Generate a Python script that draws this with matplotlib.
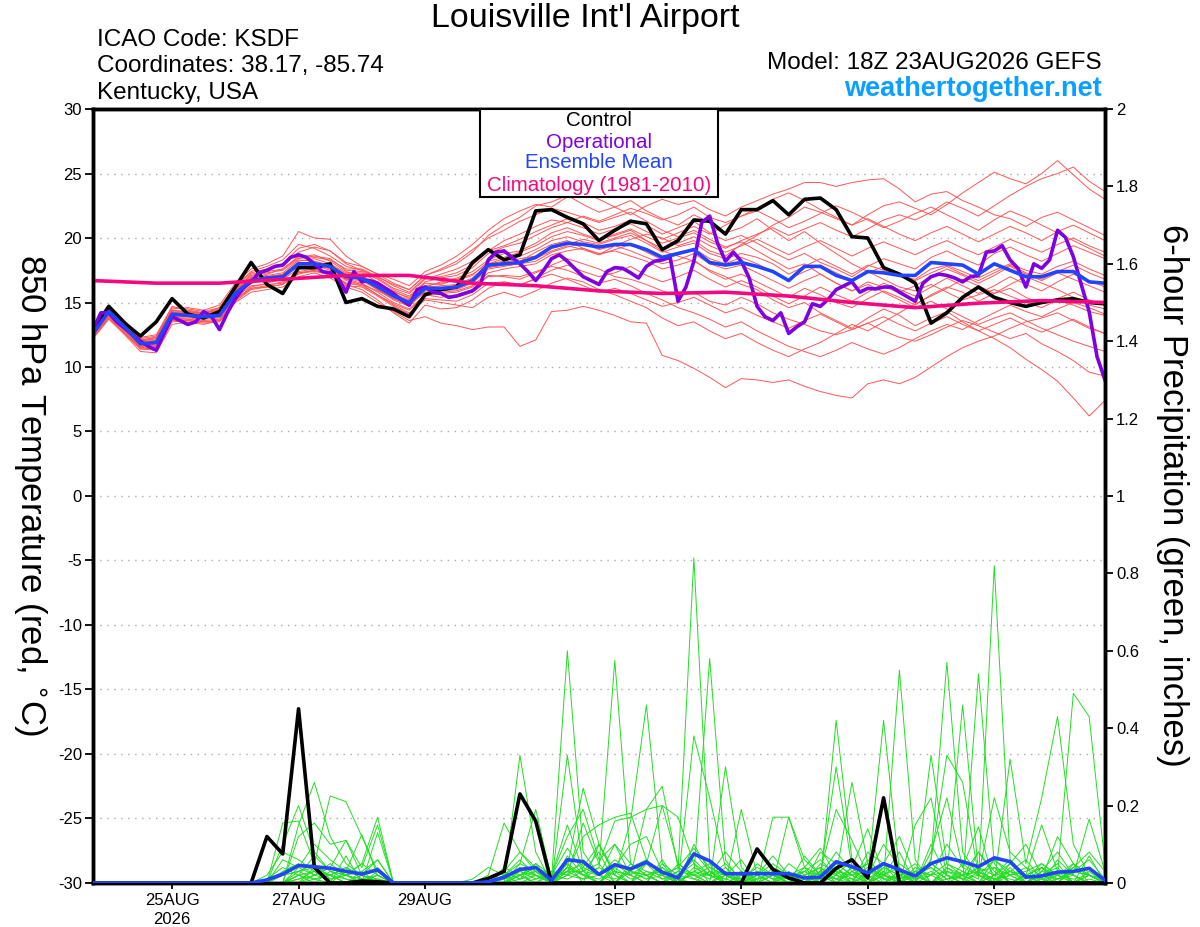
import numpy as np
import pandas as pd
import matplotlib
matplotlib.use("Agg")
import matplotlib.pyplot as plt
from matplotlib.patches import Rectangle

plt.rcParams['font.family'] = ['Liberation Sans', 'DejaVu Sans']
plt.rcParams['axes.unicode_minus'] = False

# 6-hourly times for the ensemble, 3-hourly for the operational run
times = pd.date_range("2026-08-23 18:00", periods=65, freq="6h")
times_op = pd.date_range("2026-08-23 18:00", periods=129, freq="3h")
times_clim = pd.date_range("2026-08-23 18:00", periods=17, freq="24h")

tick_dates = ["2026-08-25", "2026-08-27", "2026-08-29", "2026-09-01",
              "2026-09-03", "2026-09-05", "2026-09-07"]
tick_labels = ["25AUG\n2026", "27AUG", "29AUG", "1SEP", "3SEP", "5SEP", "7SEP"]

# ---- 850 hPa temperature (C) ----
control_t = [12.9, 14.7, 13.4, 12.4, 13.5, 15.3, 14.1, 13.8, 14.3, 16.2, 18.1, 16.4, 15.7,
             17.7, 17.7, 18.0, 15.0, 15.3, 14.7, 14.5, 13.9, 15.6, 16.0, 16.2, 18.1, 19.1,
             18.3, 18.7, 22.1, 22.2, 21.6, 21.1, 19.8, 20.6, 21.3, 21.1, 19.1, 19.8, 21.4,
             21.3, 20.3, 22.2, 22.2, 22.9, 21.8, 23.0, 23.1, 22.2, 20.1, 20.0, 17.7, 17.2,
             16.5, 13.4, 14.2, 15.4, 16.2, 15.4, 15.0, 14.7, 15.0, 15.2, 15.3, 15.0, 14.9]

mean_t = [12.6, 14.3, 13.1, 11.8, 11.9, 14.1, 14.0, 13.9, 14.0, 15.7, 16.7, 16.9, 17.0,
          18.0, 18.0, 17.8, 17.0, 16.9, 16.2, 15.5, 15.0, 16.1, 16.1, 16.2, 16.7, 17.9,
          18.0, 18.1, 18.5, 19.3, 19.6, 19.5, 19.3, 19.5, 19.5, 19.1, 18.5, 18.8, 19.1,
          18.1, 17.9, 18.1, 17.8, 17.4, 16.7, 17.8, 17.8, 17.1, 16.7, 17.4, 17.3, 17.1,
          17.1, 18.1, 18.0, 17.9, 17.2, 18.0, 17.5, 17.0, 17.0, 17.4, 17.4, 16.6, 16.5]

oper_t = [12.9, 14.2, 14.2, 13.5, 13.0, 12.5, 12.0, 11.6, 11.3, 12.6, 13.9, 13.6, 13.3,
          13.5, 14.3, 13.9, 12.9, 14.2, 15.3, 16.1, 16.6, 17.3, 17.5, 17.8, 17.9, 18.5,
          18.7, 18.5, 18.0, 17.4, 17.3, 16.9, 15.8, 17.4, 16.6, 16.7, 16.5, 16.1, 15.7,
          15.2, 14.8, 16.0, 16.2, 15.8, 15.7, 15.4, 15.5, 15.7, 15.9, 16.4, 18.3, 18.9,
          19.0, 18.5, 18.0, 17.4, 16.7, 17.5, 18.4, 18.7, 18.2, 17.6, 17.0, 16.7, 16.4,
          17.4, 17.7, 17.65, 17.3, 16.9, 17.8, 18.2, 18.3, 18.5, 15.1, 16.2, 18.2, 21.2,
          21.7, 19.6, 18.2, 18.9, 18.2, 16.9, 14.7, 13.9, 13.6, 14.2, 12.6, 13.1, 13.5,
          14.9, 14.7, 15.25, 16.0, 16.3, 16.6, 15.8, 16.1, 16.05, 16.2, 16.2, 15.8, 15.45,
          15.1, 16.5, 17.0, 17.2, 17.1, 16.9, 16.6, 17.0, 17.1, 18.9, 19.0, 19.4, 18.3,
          17.65, 16.2, 18.0, 17.65, 18.3, 20.6, 20.05, 18.55, 16.4, 14.3, 10.8, 9.0]

clim_t = [16.7, 16.5, 16.5, 16.8, 17.1, 17.1, 16.5, 16.3, 15.9, 15.7, 15.8, 15.5, 15.0,
          14.6, 14.95, 15.15, 15.0]

t01 = [12.4, 14.0, 12.9, 11.6, 11.8, 13.9, 14.3, 14.1, 14.6, 16.3, 17.4, 17.8, 18.3,
       19.5, 19.2, 18.6, 17.8, 17.5, 17.0, 16.4, 16.0, 17.1, 17.5, 18.0, 18.9, 20.2,
       21.0, 21.6, 22.5, 22.8, 23.3, 22.6, 22.0, 22.4, 22.9, 22.1, 21.5, 21.0, 21.8,
       21.2, 20.4, 20.8, 21.5, 20.6, 19.8, 20.5, 19.6, 18.8, 18.0, 17.4, 16.8, 16.2,
       15.9, 16.4, 15.8, 15.2, 15.6, 16.0, 15.5, 15.0, 14.6, 15.2, 14.8, 14.3, 14.0]
t02 = [12.3, 13.8, 12.6, 11.4, 11.3, 13.5, 13.6, 13.4, 13.5, 15.0, 15.8, 16.0, 16.2,
       17.0, 17.3, 16.9, 16.2, 15.8, 15.0, 14.3, 13.6, 13.9, 13.4, 13.2, 12.9, 13.1,
       13.1, 11.6, 12.1, 14.3, 14.4, 14.7, 14.4, 14.0, 13.5, 13.4, 10.9, 10.5, 9.9,
       9.2, 8.4, 9.1, 9.0, 8.8, 9.0, 8.5, 8.1, 7.8, 7.6, 8.7, 9.0, 8.7,
       9.2, 10.0, 10.8, 11.5, 12.0, 12.4, 13.0, 13.5, 13.8, 14.2, 13.6, 13.0, 12.6]
t03 = [12.8, 14.5, 13.3, 12.0, 12.2, 14.4, 14.2, 14.1, 14.3, 15.9, 16.9, 17.2, 17.6,
       18.5, 18.7, 18.2, 17.4, 17.0, 16.5, 15.9, 15.3, 16.2, 16.6, 16.9, 17.4, 18.3,
       18.8, 19.0, 19.6, 20.4, 20.8, 20.3, 19.9, 20.2, 20.6, 19.8, 19.0, 18.6, 18.2,
       17.5, 17.0, 16.4, 16.0, 15.2, 14.6, 15.0, 14.2, 13.6, 13.0, 13.8, 14.5, 14.0,
       13.2, 13.8, 14.3, 13.5, 12.8, 12.2, 11.5, 10.6, 9.8, 8.9, 7.6, 6.2, 7.4]
t04 = [12.5, 14.4, 13.2, 11.9, 12.0, 14.2, 14.1, 14.0, 14.2, 15.8, 16.8, 17.0, 17.1,
       18.2, 18.4, 18.0, 17.3, 17.3, 16.6, 15.8, 15.4, 16.5, 16.4, 16.8, 17.2, 18.0,
       18.4, 18.2, 18.9, 19.5, 19.8, 19.2, 18.7, 19.4, 19.9, 20.3, 20.0, 19.4, 19.8,
       19.0, 18.6, 19.5, 20.2, 21.0, 21.6, 22.4, 22.0, 21.5, 21.0, 21.8, 22.5, 22.8,
       22.3, 21.8, 22.6, 23.5, 24.3, 25.1, 24.6, 24.2, 25.0, 26.0, 24.9, 23.8, 23.0]
t05 = [12.7, 14.6, 13.4, 12.1, 12.3, 14.5, 14.6, 14.4, 14.8, 16.5, 17.6, 18.0, 18.6,
       20.5, 20.0, 19.9, 18.6, 17.8, 17.2, 16.8, 16.3, 17.4, 17.9, 18.6, 19.5, 20.6,
       21.5, 22.1, 22.6, 22.4, 23.2, 23.6, 23.0, 22.4, 21.8, 22.5, 23.0, 22.6, 22.9,
       22.2, 21.7, 22.4, 22.9, 23.4, 23.8, 24.3, 24.3, 24.0, 24.3, 24.5, 24.6, 23.8,
       22.8, 23.4, 23.6, 22.9, 22.4, 21.8, 21.5, 20.9, 21.6, 22.0, 21.4, 20.8, 20.2]
t06 = [12.2, 13.7, 12.5, 11.2, 11.1, 13.3, 13.5, 13.3, 13.6, 15.2, 16.2, 16.5, 16.8,
       17.6, 17.9, 17.7, 16.8, 16.5, 15.8, 15.0, 14.5, 15.6, 15.4, 15.6, 16.0, 17.1,
       17.0, 16.8, 17.3, 17.9, 18.4, 18.0, 17.6, 17.0, 16.8, 16.4, 15.9, 15.5, 15.8,
       15.1, 14.8, 15.4, 14.9, 14.2, 13.7, 13.3, 12.8, 12.5, 12.9, 13.4, 12.8, 12.3,
       12.0, 12.5, 13.1, 13.6, 13.2, 12.7, 12.2, 12.6, 11.8, 11.2, 10.5, 9.6, 9.3]
t07 = [12.9, 14.8, 13.6, 12.3, 12.5, 14.7, 14.4, 14.2, 14.5, 16.0, 17.0, 17.5, 17.9,
       18.9, 19.3, 19.0, 18.0, 17.5, 16.9, 16.1, 15.7, 16.8, 17.2, 17.6, 18.2, 19.0,
       19.4, 19.9, 20.5, 21.0, 21.5, 21.2, 20.6, 20.9, 21.4, 21.0, 20.3, 20.8, 21.3,
       20.4, 19.8, 20.2, 19.6, 18.9, 18.3, 18.8, 18.1, 17.6, 17.0, 17.8, 18.4, 18.0,
       17.6, 18.5, 19.0, 18.4, 17.9, 18.8, 19.3, 18.7, 18.2, 18.8, 19.4, 18.9, 18.4]
t08 = [12.4, 14.1, 12.8, 11.5, 11.6, 13.8, 13.8, 13.7, 13.8, 15.4, 16.3, 16.4, 16.5,
       17.4, 17.6, 17.3, 16.5, 16.4, 15.9, 15.3, 14.8, 15.8, 15.8, 15.9, 16.3, 17.3,
       17.6, 17.8, 18.0, 18.7, 19.0, 19.2, 18.8, 19.0, 18.6, 18.2, 17.6, 17.9, 18.3,
       17.4, 16.8, 17.2, 16.6, 16.0, 15.4, 16.1, 15.6, 15.0, 14.6, 15.3, 15.9, 15.4,
       14.8, 15.6, 16.2, 15.8, 15.1, 15.7, 16.1, 15.4, 14.9, 15.3, 15.8, 15.2, 14.8]
t09 = [12.6, 14.2, 13.0, 11.7, 11.8, 14.0, 13.9, 13.8, 13.9, 15.5, 16.5, 16.7, 16.9,
       17.8, 17.9, 17.5, 16.7, 16.4, 15.6, 14.8, 14.2, 15.2, 15.0, 14.8, 14.6, 15.4,
       15.8, 15.4, 15.9, 16.5, 16.9, 16.6, 16.0, 15.6, 15.1, 14.6, 13.8, 13.2, 13.5,
       12.8, 12.2, 12.6, 11.9, 11.3, 10.8, 11.4, 11.9, 12.6, 13.3, 12.8, 13.5, 14.2,
       14.9, 15.5, 16.1, 16.8, 16.3, 15.7, 16.4, 17.0, 16.5, 16.0, 15.4, 14.8, 14.5]
t10 = [12.8, 14.4, 13.3, 12.1, 12.1, 14.3, 14.2, 14.2, 14.4, 16.1, 17.2, 17.4, 17.6,
       18.6, 18.5, 18.3, 17.6, 17.6, 17.0, 16.3, 15.8, 16.9, 17.0, 17.3, 17.9, 19.0,
       19.8, 20.3, 20.9, 21.4, 21.2, 21.7, 21.3, 21.8, 22.3, 21.9, 21.4, 21.8, 22.4,
       21.6, 21.2, 21.7, 22.1, 21.5, 20.8, 21.3, 21.9, 22.5, 22.0, 21.4, 20.8, 21.3,
       21.9, 22.4, 21.8, 21.2, 20.6, 21.4, 22.1, 21.6, 21.0, 20.4, 19.8, 19.2, 18.6]
t11 = [12.5, 14.3, 13.1, 11.8, 11.9, 14.1, 14.0, 14.0, 14.1, 15.8, 16.8, 17.0, 17.2,
       18.1, 18.1, 17.9, 17.1, 17.0, 16.3, 15.6, 15.1, 16.2, 16.3, 16.4, 16.9, 18.0,
       18.2, 18.6, 19.1, 19.8, 20.1, 19.7, 19.5, 19.9, 20.2, 19.6, 18.9, 19.3, 19.6,
       18.8, 18.4, 18.8, 18.5, 18.0, 17.2, 17.8, 18.4, 17.8, 17.2, 17.9, 17.5, 17.0,
       16.8, 17.6, 17.9, 17.4, 16.9, 17.5, 18.0, 17.5, 17.2, 17.8, 18.2, 17.6, 17.1]
t12 = [12.3, 13.9, 12.7, 11.4, 11.5, 13.7, 13.7, 13.6, 13.7, 15.3, 16.1, 16.3, 16.6,
       17.3, 17.4, 17.2, 16.5, 16.3, 15.6, 14.9, 14.4, 15.5, 15.7, 15.8, 16.2, 17.0,
       17.1, 17.0, 17.4, 17.8, 17.5, 17.0, 16.5, 16.8, 16.3, 15.7, 15.2, 14.6, 14.2,
       13.7, 13.1, 13.5, 12.8, 12.2, 11.6, 11.2, 10.8, 11.3, 11.9, 11.4, 11.0, 11.5,
       12.2, 12.8, 13.3, 12.9, 13.6, 14.2, 14.8, 14.3, 13.9, 14.5, 15.0, 14.6, 14.1]
t13 = [12.7, 14.5, 13.2, 11.9, 12.1, 14.2, 14.3, 14.1, 14.3, 15.9, 16.9, 17.1, 17.3,
       18.3, 18.2, 17.9, 17.2, 17.1, 16.4, 15.7, 15.2, 16.3, 16.5, 16.7, 17.1, 18.2,
       18.5, 18.9, 19.4, 20.1, 20.5, 20.2, 19.8, 20.3, 20.7, 20.1, 19.6, 20.0, 20.4,
       19.7, 19.2, 19.8, 20.3, 20.8, 20.2, 20.7, 21.2, 20.6, 20.1, 20.7, 21.4, 21.8,
       21.4, 22.0, 22.8, 22.3, 21.7, 22.5, 23.3, 24.0, 24.6, 25.0, 25.5, 24.4, 23.6]
t14 = [12.5, 14.2, 13.0, 11.7, 11.7, 13.9, 13.9, 13.8, 13.9, 15.6, 16.6, 16.8, 16.9,
       17.9, 17.9, 17.7, 16.9, 16.8, 16.0, 15.2, 14.7, 15.9, 15.9, 16.0, 16.5, 17.6,
       17.8, 18.0, 18.2, 18.9, 19.3, 19.6, 19.1, 19.4, 19.0, 18.5, 18.0, 18.3, 18.8,
       18.0, 17.6, 17.9, 17.3, 16.7, 16.1, 16.7, 17.2, 16.5, 15.9, 16.6, 16.2, 15.8,
       16.3, 17.0, 17.6, 17.1, 16.5, 17.1, 17.8, 17.2, 16.7, 17.3, 16.8, 16.3, 15.8]
t15 = [12.4, 14.0, 12.8, 11.6, 11.7, 13.9, 13.7, 13.5, 13.6, 15.1, 16.0, 16.2, 16.4,
       17.2, 17.5, 17.2, 16.4, 16.0, 15.2, 14.2, 13.4, 14.8, 14.5, 14.6, 15.2, 16.1,
       16.6, 16.3, 16.9, 17.5, 17.9, 17.4, 17.0, 17.3, 17.8, 17.1, 16.6, 17.0, 17.5,
       16.8, 16.2, 16.7, 16.2, 15.5, 14.9, 15.5, 16.2, 15.6, 15.1, 15.8, 16.5, 16.0,
       15.5, 16.2, 16.9, 16.3, 15.7, 16.3, 17.0, 16.4, 15.9, 16.6, 17.2, 16.7, 16.2]
t16 = [12.9, 14.7, 13.5, 12.2, 12.4, 14.6, 14.5, 14.3, 14.6, 16.3, 17.3, 17.6, 18.0,
       19.2, 19.5, 19.0, 18.1, 17.8, 17.2, 16.5, 16.0, 17.1, 17.6, 18.2, 19.1, 20.0,
       20.6, 21.3, 21.8, 22.3, 22.0, 21.6, 21.2, 21.6, 22.0, 21.3, 20.6, 20.1, 20.6,
       19.9, 19.3, 19.7, 19.0, 18.3, 17.6, 18.0, 17.2, 16.5, 15.9, 16.4, 15.8, 15.2,
       14.6, 15.1, 14.5, 13.9, 13.3, 13.8, 14.2, 13.6, 13.0, 12.5, 12.0, 11.6, 11.2]
t17 = [12.6, 14.3, 13.1, 11.8, 12.0, 14.2, 14.1, 14.0, 14.1, 15.7, 16.7, 16.9, 17.0,
       18.0, 18.1, 17.8, 17.0, 16.9, 16.2, 15.5, 15.0, 16.0, 16.1, 16.2, 16.7, 17.8,
       18.1, 18.4, 18.6, 19.2, 19.5, 19.9, 19.6, 20.0, 20.4, 19.8, 19.2, 19.6, 20.1,
       19.4, 18.9, 19.4, 19.9, 19.3, 18.7, 19.3, 19.8, 19.2, 18.6, 19.2, 19.7, 19.2,
       18.7, 19.3, 19.8, 19.2, 18.7, 19.3, 19.9, 19.4, 18.9, 19.5, 20.0, 19.4, 18.9]
t18 = [12.3, 13.8, 12.6, 11.5, 11.4, 13.6, 13.6, 13.5, 13.6, 15.2, 16.1, 16.2, 16.4,
       17.3, 17.5, 17.1, 16.3, 16.2, 15.5, 14.7, 14.1, 15.3, 15.2, 15.1, 15.6, 16.5,
       16.6, 16.4, 16.8, 17.2, 16.8, 16.3, 15.8, 16.1, 15.7, 15.2, 14.7, 15.0, 15.4,
       14.8, 14.2, 14.6, 14.0, 13.5, 13.0, 13.6, 14.1, 13.5, 12.9, 13.4, 13.9, 13.3,
       12.8, 13.4, 13.9, 13.3, 12.8, 13.3, 13.8, 13.2, 12.7, 13.2, 13.7, 13.1, 12.6]
t19 = [12.7, 14.6, 13.4, 12.0, 12.3, 14.4, 14.3, 14.2, 14.4, 16.0, 17.1, 17.3, 17.5,
       18.4, 18.6, 18.4, 17.5, 17.4, 16.8, 16.0, 15.5, 16.6, 16.9, 17.1, 17.7, 18.8,
       19.3, 19.6, 20.2, 20.8, 21.2, 20.8, 20.3, 20.7, 21.1, 20.5, 19.9, 20.4, 20.9,
       20.3, 21.0, 21.7, 22.3, 23.0, 23.5, 22.9, 22.2, 21.6, 21.0, 21.5, 20.9, 20.3,
       19.8, 20.4, 20.9, 20.3, 19.7, 20.3, 20.9, 20.4, 19.8, 20.5, 21.0, 20.4, 19.8]
t20 = [12.6, 14.4, 13.2, 11.9, 12.0, 14.1, 14.1, 14.0, 14.0, 15.6, 16.6, 16.8, 16.9,
       17.9, 18.0, 17.6, 16.8, 16.7, 16.0, 15.3, 14.9, 16.0, 16.0, 16.1, 16.6, 17.7,
       17.9, 18.1, 18.4, 19.0, 19.4, 19.1, 18.7, 19.1, 19.5, 18.9, 18.3, 18.7, 19.2,
       18.4, 18.0, 18.5, 18.0, 17.4, 16.8, 17.4, 17.9, 17.3, 16.7, 17.3, 17.8, 17.2,
       16.7, 17.3, 17.8, 17.2, 16.7, 17.3, 17.9, 17.3, 16.8, 17.4, 17.9, 17.3, 16.8]

# ---- 6-hour precipitation (inches) ----
control_p = [0, 0, 0, 0, 0, 0, 0, 0, 0, 0, 0, 0.12, 0.075,
             0.45, 0.04, 0, 0, 0.005, 0.003, 0, 0, 0, 0, 0, 0, 0.012,
             0.03, 0.23, 0.16, 0, 0, 0, 0, 0, 0, 0, 0, 0, 0,
             0, 0, 0, 0.088, 0.035, 0.013, 0, 0, 0.038, 0.06, 0.013, 0.22, 0,
             0, 0, 0, 0, 0, 0, 0, 0, 0, 0, 0, 0, 0]

mean_p = [0, 0, 0, 0, 0, 0, 0, 0, 0, 0, 0, 0.008, 0.023,
          0.045, 0.042, 0.038, 0.03, 0.023, 0.034, 0, 0, 0, 0, 0, 0, 0.003,
          0.015, 0.035, 0.04, 0.007, 0.06, 0.055, 0.022, 0.047, 0.036, 0.054, 0.028, 0.013, 0.075,
          0.057, 0.024, 0.024, 0.024, 0.024, 0.024, 0.013, 0.015, 0.055, 0.042, 0.026, 0.05, 0.034,
          0.018, 0.05, 0.065, 0.055, 0.042, 0.065, 0.055, 0.015, 0.018, 0.028, 0.03, 0.038, 0.007]

p01 = [0, 0, 0, 0, 0, 0, 0, 0, 0, 0, 0, 0, 0.10,
       0.20, 0.08, 0.03, 0.02, 0.05, 0.17, 0, 0, 0, 0, 0, 0, 0,
       0.02, 0.05, 0.19, 0.01, 0.60, 0.08, 0.02, 0.06, 0.03, 0.01, 0.04, 0, 0.10,
       0.03, 0, 0, 0, 0, 0, 0, 0.02, 0.08, 0.03, 0, 0.05, 0.12,
       0.02, 0, 0.04, 0.01, 0, 0.06, 0.02, 0, 0.03, 0.08, 0.02, 0, 0]
p02 = [0, 0, 0, 0, 0, 0, 0, 0, 0, 0, 0, 0, 0,
       0.15, 0.26, 0.12, 0.05, 0.02, 0.06, 0, 0, 0, 0, 0, 0, 0.02,
       0.155, 0.08, 0.03, 0, 0.05, 0.02, 0.04, 0.575, 0.05, 0.02, 0, 0.03, 0.84,
       0.06, 0.02, 0, 0.03, 0.01, 0, 0, 0, 0.04, 0.01, 0, 0.02, 0.08,
       0, 0.33, 0.05, 0.03, 0.01, 0.82, 0.06, 0, 0.02, 0.04, 0, 0.02, 0]
p03 = [0, 0, 0, 0, 0, 0, 0, 0, 0, 0, 0, 0, 0.155,
       0.16, 0.05, 0.225, 0.21, 0.12, 0.03, 0, 0, 0, 0, 0, 0, 0,
       0, 0.33, 0.08, 0, 0.33, 0.04, 0.10, 0.02, 0.16, 0.46, 0.05, 0, 0.38,
       0.22, 0.04, 0, 0, 0, 0.05, 0.02, 0, 0.42, 0.06, 0.01, 0, 0.03,
       0, 0.06, 0.57, 0.08, 0.02, 0, 0.04, 0, 0.01, 0.12, 0.05, 0, 0]
p04 = [0, 0, 0, 0, 0, 0, 0, 0, 0, 0, 0, 0, 0,
       0.12, 0.155, 0.10, 0.11, 0.04, 0.15, 0, 0, 0, 0, 0, 0, 0,
       0.03, 0.01, 0.05, 0.02, 0.12, 0.19, 0.06, 0.10, 0.02, 0.19, 0.25, 0.04, 0.02,
       0.58, 0.06, 0, 0.02, 0, 0.17, 0.04, 0.09, 0.02, 0.26, 0.05, 0.01, 0.55,
       0.06, 0, 0.02, 0.46, 0.03, 0, 0.32, 0.05, 0.22, 0.43, 0.10, 0.02, 0]
p05 = [0, 0, 0, 0, 0, 0, 0, 0, 0, 0, 0, 0, 0.06,
       0.04, 0.10, 0.06, 0.03, 0.125, 0.02, 0, 0, 0, 0, 0, 0.01, 0.04,
       0.02, 0.06, 0.02, 0, 0.04, 0.245, 0.10, 0.02, 0, 0.05, 0.20, 0.17, 0.05,
       0, 0.30, 0.04, 0, 0.17, 0.17, 0.06, 0.02, 0.30, 0.04, 0.14, 0.02, 0,
       0.15, 0.22, 0.02, 0, 0.54, 0.05, 0, 0.02, 0, 0.02, 0.49, 0.43, 0.05]
p06 = [0, 0, 0, 0, 0, 0, 0, 0, 0, 0, 0, 0.02, 0.08,
       0.06, 0.03, 0, 0.07, 0, 0.13, 0, 0, 0, 0, 0, 0, 0,
       0, 0.05, 0.03, 0, 0.07, 0.02, 0, 0.05, 0.02, 0, 0.06, 0, 0.03,
       0.02, 0, 0.19, 0.02, 0.07, 0.02, 0, 0.03, 0.19, 0.11, 0.02, 0.42, 0.03,
       0, 0.06, 0.33, 0.26, 0.02, 0.22, 0.08, 0.04, 0, 0.06, 0.02, 0.165, 0.03]
p07 = [0, 0, 0, 0, 0, 0, 0, 0, 0, 0, 0, 0, 0,
       0.04, 0.02, 0.05, 0.02, 0, 0.01, 0, 0, 0, 0, 0, 0, 0,
       0, 0.02, 0.04, 0.02, 0.15, 0.03, 0, 0.04, 0.10, 0.12, 0.03, 0, 0.04,
       0.02, 0.08, 0.03, 0, 0, 0, 0.04, 0, 0.05, 0.02, 0, 0.04, 0.02,
       0, 0.08, 0.22, 0.04, 0.145, 0, 0.05, 0.10, 0.02, 0, 0.04, 0.02, 0]
p08 = [0, 0, 0, 0, 0, 0, 0, 0, 0, 0, 0, 0, 0.03,
       0.05, 0.02, 0.04, 0.11, 0.02, 0, 0, 0, 0, 0, 0, 0, 0,
       0, 0.02, 0, 0.03, 0.02, 0.155, 0.05, 0, 0.03, 0.02, 0, 0.05, 0.02,
       0, 0.03, 0, 0.05, 0.02, 0, 0.07, 0.02, 0, 0.04, 0.02, 0, 0.03,
       0, 0.10, 0.02, 0, 0.03, 0.04, 0, 0.02, 0.15, 0.03, 0, 0.07, 0]
p09 = [0, 0, 0, 0, 0, 0, 0, 0, 0, 0, 0, 0, 0,
       0, 0.04, 0.02, 0, 0.03, 0.06, 0, 0, 0, 0, 0, 0, 0,
       0.04, 0.02, 0, 0.02, 0.05, 0, 0.10, 0.03, 0, 0.06, 0.02, 0, 0.08,
       0.03, 0, 0.02, 0, 0.04, 0.02, 0, 0.05, 0.03, 0, 0.06, 0.02, 0,
       0.04, 0.02, 0, 0.05, 0.02, 0, 0.03, 0.06, 0.01, 0, 0.05, 0.02, 0]
p10 = [0, 0, 0, 0, 0, 0, 0, 0, 0, 0, 0, 0, 0,
       0.02, 0.07, 0.03, 0.02, 0.05, 0.02, 0, 0, 0, 0, 0, 0, 0,
       0, 0.03, 0.02, 0, 0.03, 0.05, 0.02, 0, 0.04, 0.06, 0.02, 0, 0.03,
       0.05, 0, 0.02, 0, 0, 0, 0.02, 0.04, 0, 0.03, 0.05, 0, 0.02,
       0.05, 0, 0.03, 0.02, 0, 0.04, 0.02, 0, 0.02, 0.05, 0, 0.03, 0]
p11 = [0, 0, 0, 0, 0, 0, 0, 0, 0, 0, 0, 0, 0.02,
       0.03, 0.01, 0.02, 0, 0.02, 0, 0, 0, 0, 0, 0, 0, 0,
       0.01, 0.02, 0.05, 0, 0.02, 0.04, 0.02, 0.10, 0.05, 0.02, 0, 0.02, 0.05,
       0.02, 0, 0, 0, 0, 0.03, 0, 0.02, 0.04, 0, 0.02, 0.10, 0.04,
       0, 0.02, 0.05, 0.02, 0, 0.02, 0.06, 0.02, 0, 0.03, 0.02, 0, 0]
p12 = [0, 0, 0, 0, 0, 0, 0, 0, 0, 0, 0, 0, 0,
       0.01, 0.03, 0.02, 0.04, 0.01, 0, 0, 0, 0, 0, 0, 0, 0,
       0, 0, 0.02, 0, 0.03, 0.03, 0.05, 0.16, 0.17, 0.19, 0.20, 0.05, 0.02,
       0, 0.02, 0, 0, 0.02, 0, 0, 0.08, 0.05, 0.02, 0, 0.03, 0,
       0.02, 0.05, 0.02, 0, 0.08, 0.03, 0, 0.02, 0.04, 0, 0.03, 0.02, 0]
p13 = [0, 0, 0, 0, 0, 0, 0, 0, 0, 0, 0, 0.01, 0.04,
       0.02, 0, 0.03, 0.01, 0, 0.02, 0, 0, 0, 0, 0, 0, 0.01,
       0.03, 0.08, 0.04, 0.02, 0.09, 0.03, 0.08, 0, 0.05, 0.03, 0.02, 0.04, 0.09,
       0.04, 0.02, 0.06, 0, 0.02, 0, 0.03, 0.06, 0.02, 0, 0.08, 0.05, 0,
       0.03, 0.02, 0.10, 0.04, 0.02, 0.06, 0.03, 0.01, 0.05, 0.02, 0.04, 0.08, 0.03]
p14 = [0, 0, 0, 0, 0, 0, 0, 0, 0, 0, 0, 0, 0,
       0.03, 0.05, 0.01, 0.02, 0.03, 0, 0, 0, 0, 0, 0, 0, 0,
       0.01, 0.04, 0.02, 0.01, 0.03, 0.12, 0.15, 0.17, 0.18, 0.06, 0.02, 0, 0.03,
       0.01, 0.04, 0, 0.02, 0, 0.02, 0.03, 0, 0.02, 0.06, 0, 0.02, 0.05,
       0.02, 0, 0.04, 0.02, 0.08, 0.02, 0.03, 0, 0.04, 0.02, 0, 0.02, 0]
p15 = [0, 0, 0, 0, 0, 0, 0, 0, 0, 0, 0, 0, 0,
       0.02, 0.01, 0, 0.03, 0.02, 0.04, 0, 0, 0, 0, 0, 0, 0,
       0, 0.01, 0.03, 0, 0.02, 0.01, 0.04, 0.02, 0, 0.03, 0.01, 0.02, 0.06,
       0.02, 0.05, 0.01, 0, 0.02, 0.01, 0, 0.03, 0.01, 0.04, 0, 0.02, 0.01,
       0.03, 0.05, 0.02, 0.01, 0.04, 0, 0.02, 0.03, 0.05, 0.02, 0, 0.01, 0]
p16 = [0, 0, 0, 0, 0, 0, 0, 0, 0, 0, 0, 0, 0.02,
       0.03, 0.04, 0.02, 0, 0.01, 0, 0, 0, 0, 0, 0, 0, 0,
       0.02, 0, 0.01, 0.03, 0.02, 0.06, 0.02, 0.01, 0.03, 0.02, 0.04, 0.01, 0,
       0.03, 0.01, 0, 0.02, 0.05, 0.02, 0, 0.01, 0.03, 0.02, 0.05, 0.01, 0,
       0.02, 0.04, 0.01, 0.03, 0, 0.02, 0.05, 0.02, 0, 0.01, 0.03, 0.06, 0.01]
p17 = [0, 0, 0, 0, 0, 0, 0, 0, 0, 0, 0, 0, 0,
       0, 0.02, 0.04, 0.02, 0, 0.03, 0, 0, 0, 0, 0, 0, 0,
       0, 0.02, 0.03, 0.01, 0.04, 0.02, 0, 0.03, 0.02, 0.05, 0.01, 0.03, 0.02,
       0.04, 0.02, 0, 0.01, 0.03, 0, 0.02, 0.04, 0.01, 0, 0.03, 0.02, 0.04,
       0.01, 0.03, 0, 0.02, 0.04, 0.02, 0.01, 0, 0.03, 0.02, 0.05, 0.02, 0]
p18 = [0, 0, 0, 0, 0, 0, 0, 0, 0, 0, 0, 0, 0,
       0.01, 0.02, 0.01, 0.02, 0.01, 0.02, 0, 0, 0, 0, 0, 0, 0,
       0.01, 0.03, 0.01, 0.02, 0.03, 0.01, 0.02, 0.04, 0.01, 0.02, 0.03, 0.01, 0.02,
       0.02, 0.01, 0.03, 0.01, 0.02, 0.01, 0.03, 0.02, 0.01, 0.02, 0.03, 0.01, 0.02,
       0.01, 0.02, 0.03, 0.01, 0.02, 0.01, 0.03, 0.02, 0.01, 0.02, 0.01, 0.02, 0.01]
p19 = [0, 0, 0, 0, 0, 0, 0, 0, 0, 0, 0, 0, 0,
       0.02, 0.03, 0.02, 0.01, 0, 0, 0, 0, 0, 0, 0, 0, 0,
       0.03, 0.01, 0.02, 0, 0.04, 0.02, 0.01, 0.03, 0.02, 0, 0.05, 0.02, 0.01,
       0, 0.02, 0.01, 0.03, 0.01, 0.02, 0.04, 0.02, 0, 0.03, 0.01, 0.04, 0.02,
       0.03, 0, 0.01, 0.02, 0.03, 0.01, 0, 0.02, 0.04, 0.01, 0.02, 0, 0]
p20 = [0, 0, 0, 0, 0, 0, 0, 0, 0, 0, 0, 0, 0,
       0, 0.01, 0.02, 0.04, 0.02, 0.01, 0, 0, 0, 0, 0, 0, 0,
       0, 0.02, 0.04, 0.02, 0.01, 0.03, 0.02, 0.05, 0.03, 0.01, 0.02, 0.04, 0.01,
       0.03, 0.02, 0.01, 0.04, 0.02, 0, 0.01, 0.03, 0.02, 0.01, 0.04, 0.02, 0.01,
       0.02, 0.04, 0.01, 0.02, 0.03, 0.01, 0.02, 0.04, 0.02, 0.01, 0.03, 0.02, 0]

temp_members = [t01, t02, t03, t04, t05, t06, t07, t08, t09, t10,
                t11, t12, t13, t14, t15, t16, t17, t18, t19, t20]
precip_members = [p01, p02, p03, p04, p05, p06, p07, p08, p09, p10,
                  p11, p12, p13, p14, p15, p16, p17, p18, p19, p20]

RED = '#ff5555'
GREEN = '#22dd22'
BLACK = '#000000'
PURPLE = '#7f00e0'
BLUE = '#2244ff'
PINK = '#f5087f'

fig = plt.figure(figsize=(12, 9.27), dpi=100)
ax = fig.add_axes([0.0775, 0.0475, 0.8433, 0.8349])
ax2 = ax.twinx()

# temperature
for m in temp_members:
    ax.plot(times, m, color=RED, lw=0.7, zorder=2)
ax.plot(times, control_t, color=BLACK, lw=2.6, zorder=4)
ax.plot(times_op, oper_t, color=PURPLE, lw=2.6, zorder=5)
ax.plot(times, mean_t, color=BLUE, lw=2.6, zorder=6)
ax.plot(times_clim, clim_t, color=PINK, lw=2.6, zorder=7)

# precipitation
for m in precip_members:
    ax2.plot(times, m, color=GREEN, lw=0.7, zorder=2)
ax2.plot(times, control_p, color=BLACK, lw=2.6, zorder=4)
ax2.plot(times, mean_p, color=BLUE, lw=2.6, zorder=5)

for v in range(-25, 30, 5):
    ax.axhline(v, color='#aaaaaa', lw=1.0, ls=(0, (1, 4)), zorder=1)

ax.set_xlim(times[0], times[-1])
ax.set_ylim(-30, 30)
ax.set_yticks(range(-30, 31, 5))
ax2.set_ylim(0, 2)
p_ticks = np.arange(0, 2.01, 0.2)
ax2.set_yticks(p_ticks)
ax2.set_yticklabels(["%g" % round(v, 1) for v in p_ticks])

ax.set_xticks(pd.to_datetime(tick_dates))
ax.set_xticklabels(tick_labels, linespacing=1.4)

for a in (ax, ax2):
    for s in a.spines.values():
        s.set_linewidth(2.5)
    a.tick_params(axis='y', direction='out', length=6, width=1.3, labelsize=12, pad=2)
ax.tick_params(axis='x', direction='out', length=4, width=1.3, labelsize=12, pad=3)

fig.text(0.4875, 0.980, "Louisville Int'l Airport", ha='center', va='center', fontsize=24.5)
fig.text(0.081, 0.957, "ICAO Code: KSDF", ha='left', va='center', fontsize=17.5)
fig.text(0.081, 0.929, "Coordinates: 38.17, -85.74", ha='left', va='center', fontsize=17.5)
fig.text(0.081, 0.900, "Kentucky, USA", ha='left', va='center', fontsize=17.5)
fig.text(0.918, 0.932, "Model: 18Z 23AUG2026 GEFS", ha='right', va='center', fontsize=17.5)
fig.text(0.918, 0.904, "weathertogether.net", ha='right', va='center', fontsize=19.5,
         fontweight='bold', color='#0aa0ff')

fig.text(0.025, 0.466, "850 hPa Temperature (red, $^{\\circ}$C)", rotation=270,
         ha='center', va='center', fontsize=25)
fig.text(0.9767, 0.466, "6-hour Precipitation (green, inches)", rotation=270,
         ha='center', va='center', fontsize=25)

# legend box
fig.patches.append(Rectangle((0.400, 0.7875), 0.198, 0.0949, transform=fig.transFigure,
                             facecolor='white', edgecolor='black', lw=1.5, zorder=10))
leg_items = [("Control", BLACK), ("Operational", PURPLE),
             ("Ensemble Mean", BLUE), ("Climatology (1981-2010)", PINK)]
leg_y = [0.8695, 0.8468, 0.8242, 0.8004]
for (txt, col), y in zip(leg_items, leg_y):
    fig.text(0.4992, y, txt, ha='center', va='center', fontsize=14.8, color=col, zorder=11)

fig.savefig("out.png", dpi=100)
